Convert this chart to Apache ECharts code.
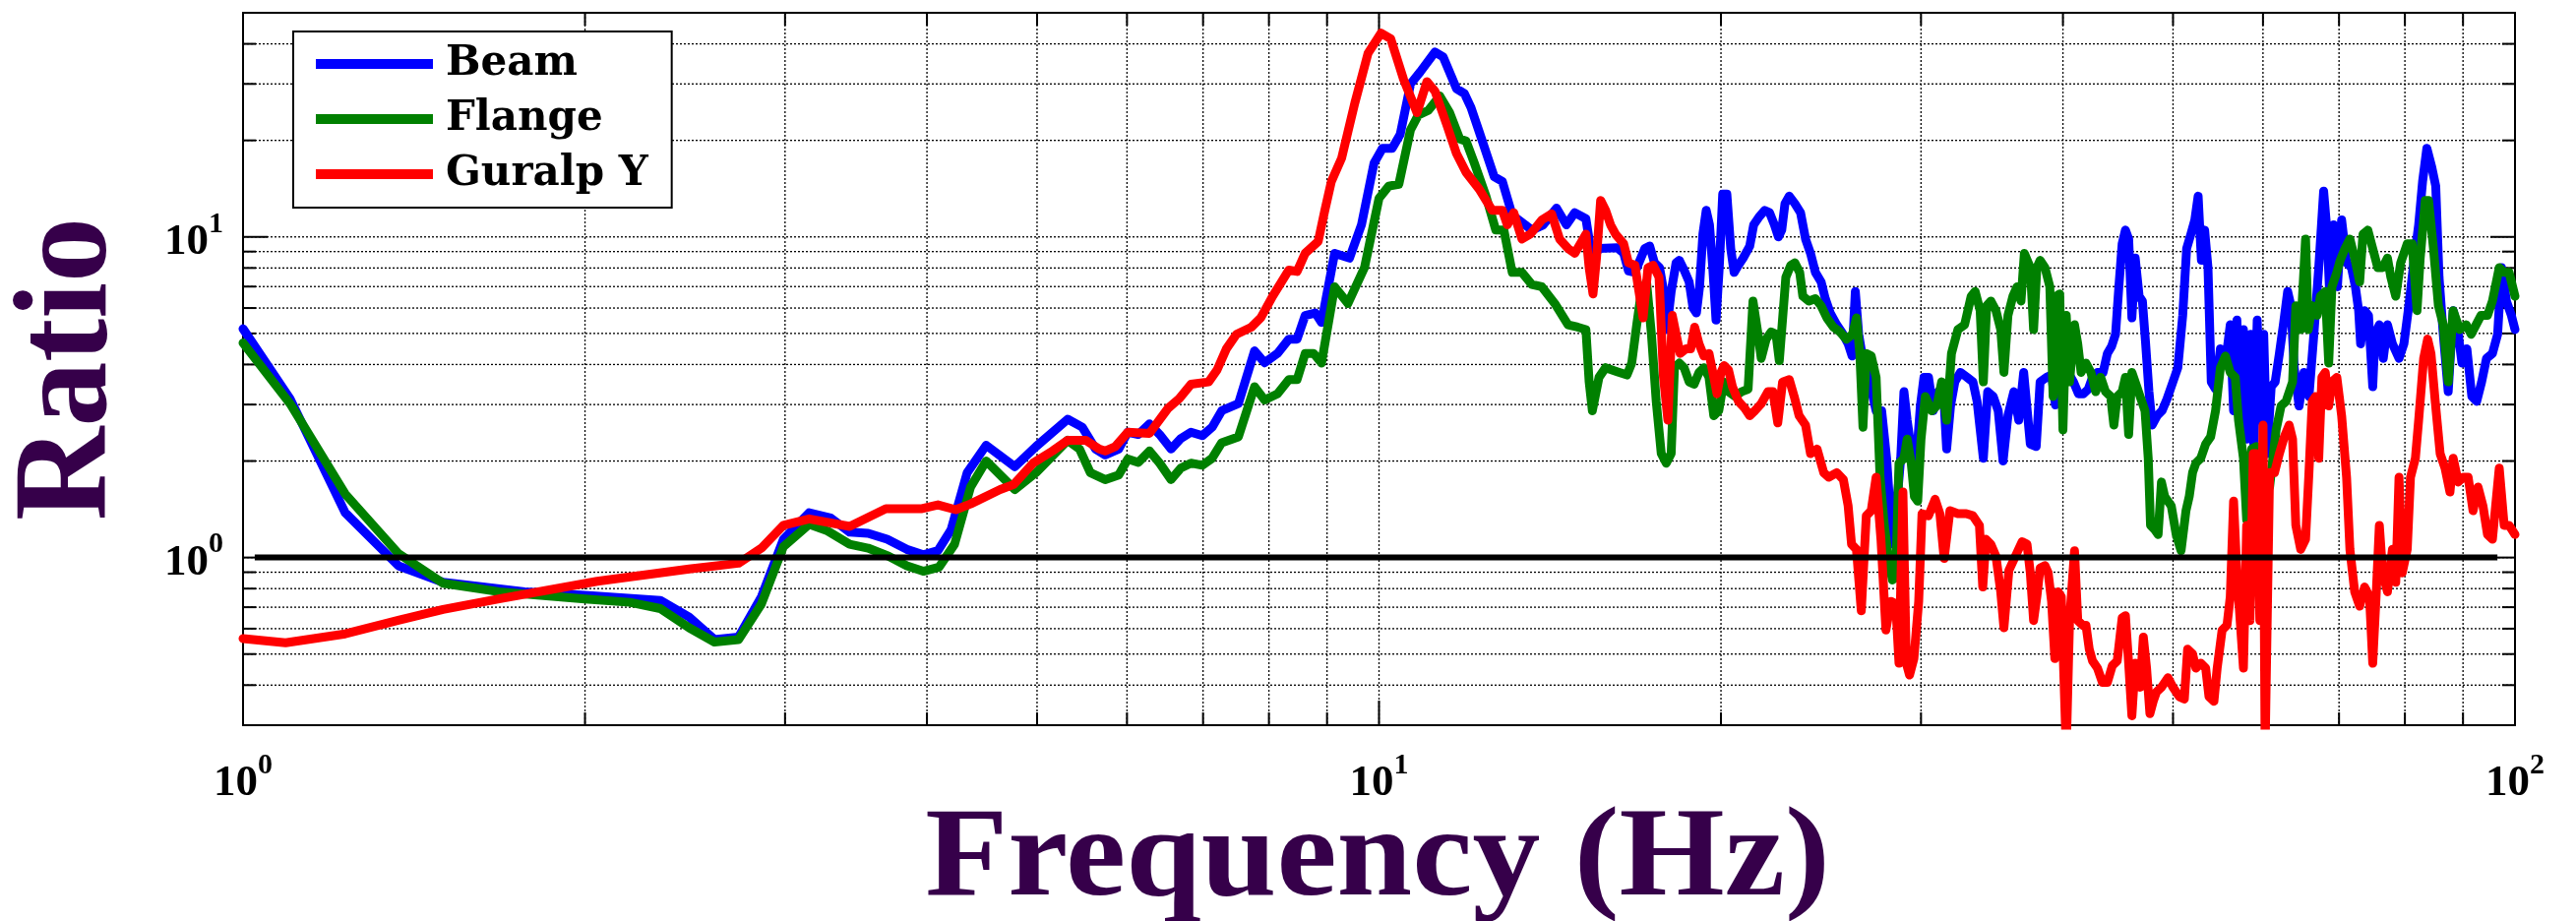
<!DOCTYPE html>
<html><head><meta charset="utf-8">
<script src="https://cdn.jsdelivr.net/npm/echarts@6/dist/echarts.min.js"></script>
<style>html,body{margin:0;padding:0;background:#fff}#c{width:2618px;height:936px}</style>
</head><body><div id="c"></div>
<script>
// ---------- data (frequency in Hz, ratio) ----------
const beamF = [1.00,1.10,1.23,1.37,1.50,1.77,2.00,2.33,2.47,
2.60,2.73,2.86,2.99,3.15,3.29,3.42,3.55,3.69,3.84,3.97,4.09,4.20,4.34,4.51,4.78,4.99,5.32,5.48,5.63,5.74,5.90,6.01,
6.14,6.28,6.41,6.56,6.69,6.83,6.99,7.13,7.27,7.52,7.77,7.93,8.14,8.33,8.47,8.61,8.79,8.90,9.14,9.42,9.65,9.90,10.07,10.27,10.44,10.66,10.87,11.20,11.39,11.70,11.89,12.05,12.25,12.63,12.84,13.10,13.45,13.63,13.95,14.33,14.62,14.87,
15.21,15.41,15.62,16.20,16.42,16.58,16.80,17.14,17.31,17.48,17.66,17.78,17.92,18.08,18.26,18.38,18.56,18.75,18.90,19.03,19.15,19.28,19.41,19.54,19.67,19.80,19.93,20.07,20.24,20.40,20.54,20.72,20.92,21.20,21.37,21.59,21.85,22.07,22.29,22.47,22.62,22.77,22.97,23.23,23.50,23.74,23.98,24.22,24.50,24.71,24.96,25.29,25.59,25.88,26.09,26.26,26.44,26.70,27.03,27.39,27.70,27.98,28.16,28.35,28.60,28.79,28.98,29.17,29.41,29.66,29.96,30.18,30.46,30.76,31.07,31.38,31.60,31.85,32.13,32.49,32.93,33.33,33.61,34.04,34.34,34.73,35.08,35.43,35.78,36.21,36.57,36.94,
37.44,37.89,38.19,38.70,39.09,39.40,39.74,40.06,40.46,40.86,41.28,41.69,42.11,42.47,42.90,43.39,43.77,44.15,44.50,44.80,45.10,45.40,45.70,46.00,46.31,46.68,46.99,47.30,47.62,47.93,48.42,48.90,49.39,49.99,50.49,50.99,51.40,51.84,52.26,52.61,52.96,53.31,53.67,54.03,54.50,55.04,55.60,56.15,56.53,56.91,57.29,57.67,58.05,58.52,58.91,59.30,59.69,60.09,60.49,61.01,61.50,62.03,62.53,63.08,63.50,63.92,64.56,65.20,65.86,66.52,67.18,67.85,68.30,68.76,69.22,69.77,70.37,71.08,71.79,72.36,72.84,73.13,73.72,74.31,74.95,75.30,75.96,76.57,77.23,78.00,79.05,79.84,80.64,81.45,82.26,82.92,83.64,84.48,85.16,85.73,86.47,87.34,88.22,88.92,89.81,90.71,91.62,92.53,93.46,94.39,95.53,96.54,97.31,98.28,99.27,100];
const beamV = [5.17,3.13,1.38,0.943,0.837,0.782,0.763,0.735,0.652,
0.555,0.565,0.755,1.14,1.38,1.33,1.20,1.19,1.14,1.06,1.02,1.05,1.22,1.84,2.24,1.92,2.22,2.70,2.55,2.18,2.09,2.18,2.46,
2.42,2.61,2.42,2.18,2.35,2.46,2.40,2.55,2.87,3.02,4.41,4.05,4.33,4.80,4.80,5.69,5.79,5.41,8.89,8.59,10.9,17.0,18.9,18.9,20.9,30.0,32.7,37.7,36.4,29.0,28.0,25.3,21.3,15.4,14.9,11.7,10.9,10.5,10.9,12.3,10.9,11.9,
11.4,8.45,9.20,9.26,8.89,7.83,7.75,9.20,9.36,8.30,8.02,6.99,5.14,6.76,8.30,8.45,7.88,7.24,6.00,5.79,6.99,10.2,12.1,10.9,8.02,5.50,8.02,13.6,13.6,9.20,7.75,8.16,8.59,9.36,10.9,11.5,12.1,11.9,10.9,10.0,10.5,12.7,13.4,12.7,11.9,9.85,8.89,7.75,7.24,6.42,5.79,5.32,5.00,4.64,4.25,6.76,4.97,4.04,3.53,2.87,2.87,2.04,1.45,1.10,1.55,2.04,3.29,2.68,2.18,1.84,2.97,3.65,3.65,2.87,3.29,3.41,2.18,2.97,3.53,3.78,3.65,3.53,3.07,2.04,3.29,3.18,2.87,2.00,2.77,3.29,2.68,3.78,
2.26,2.22,3.53,3.65,3.71,2.99,3.18,3.65,3.75,3.53,3.24,3.24,3.35,3.65,3.78,3.78,4.33,4.56,4.97,6.99,9.52,10.5,9.85,5.59,8.59,6.53,6.31,4.64,3.29,2.59,2.77,2.87,3.12,3.53,3.91,5.69,9.20,10.2,11.3,13.4,8.45,10.5,8.02,3.53,3.35,4.48,4.04,5.32,2.87,5.50,2.50,5.14,2.34,4.97,2.18,5.50,2.68,4.97,2.11,3.41,3.53,4.33,5.32,6.76,6.10,3.91,2.97,3.78,3.18,4.97,8.02,13.9,10.5,6.10,10.9,6.99,11.3,8.30,8.02,6.99,5.89,4.64,5.89,5.69,3.41,4.97,5.32,4.18,5.32,4.64,4.18,4.64,6.10,8.30,10.9,14.9,18.9,16.5,14.4,7.49,4.97,3.29,5.89,5.32,4.04,4.48,3.18,3.07,3.53,4.18,4.33,4.97,8.02,6.31,5.69,5.14];

const flangeF = [1.00,1.10,1.23,1.37,1.50,1.68,2.00,2.19,2.33,2.47,
2.60,2.73,2.86,2.99,3.15,3.27,3.42,3.55,3.70,3.84,3.97,4.10,4.23,4.37,4.51,4.78,4.99,5.32,5.45,5.57,5.74,5.90,6.01,
6.14,6.28,6.41,6.56,6.69,6.83,6.99,7.13,7.27,7.52,7.77,7.93,8.14,8.33,8.47,8.61,8.76,8.90,9.14,9.39,9.71,10.00,10.20,10.41,10.66,10.83,11.05,11.31,11.54,11.78,11.93,12.13,12.42,12.67,12.88,13.10,13.36,13.63,13.91,14.28,14.67,14.96,
15.21,15.31,15.41,15.62,15.83,16.20,16.53,16.69,16.86,17.02,17.20,17.37,17.54,17.72,17.90,18.08,18.20,18.38,18.56,18.75,18.94,19.13,19.32,19.52,19.71,19.91,20.11,20.31,20.58,20.85,21.13,21.34,21.56,21.70,21.92,22.14,22.36,22.51,22.81,23.04,23.23,23.46,23.61,23.90,24.22,24.50,24.79,25.12,25.46,25.79,26.11,26.32,26.50,26.67,26.85,27.12,27.39,27.61,27.85,28.12,28.31,28.50,28.69,28.98,29.17,29.41,29.60,29.80,30.00,30.26,30.66,30.97,31.28,31.60,31.91,32.33,32.77,33.21,33.48,33.82,34.04,34.27,34.56,34.92,35.26,35.49,35.78,36.14,36.45,36.74,36.99,
37.44,37.69,37.94,38.19,38.57,38.95,39.21,39.47,39.74,40.00,40.27,40.54,40.95,41.22,41.50,41.91,42.33,42.75,43.18,43.61,44.06,44.35,44.65,45.10,45.40,45.70,46.00,46.46,46.77,47.24,47.55,47.77,48.19,48.51,48.84,49.16,49.82,50.32,50.82,51.33,51.67,52.02,52.37,52.89,53.42,53.96,54.50,55.04,55.60,56.15,56.72,57.10,57.67,58.05,58.64,59.20,60.01,60.81,61.62,62.24,62.87,63.71,64.13,64.77,65.41,65.77,66.30,66.96,67.41,68.08,68.55,69.00,69.69,70.16,70.86,71.56,72.26,72.99,73.48,74.21,74.95,75.71,76.47,77.22,77.75,78.53,79.31,80.38,81.18,81.99,82.52,83.37,83.93,84.77,85.62,86.47,87.34,88.22,89.39,90.59,91.50,92.41,93.33,94.58,95.53,96.86,97.83,98.81,100];
const flangeV = [4.67,3.02,1.58,1.03,0.831,0.782,0.742,0.725,0.693,0.604,
0.545,0.555,0.717,1.08,1.27,1.21,1.10,1.07,1.01,0.943,0.906,0.934,1.10,1.66,2.00,1.63,1.84,2.32,2.18,1.84,1.75,1.81,2.03,
1.98,2.15,1.97,1.75,1.90,1.97,1.94,2.04,2.28,2.38,3.41,3.10,3.24,3.59,3.59,4.33,4.33,4.04,6.99,6.20,8.02,13.2,14.4,14.6,21.6,24.0,24.8,27.5,24.4,20.2,19.9,17.0,13.4,10.5,10.5,7.75,7.75,7.11,6.99,6.20,5.32,5.23,
5.14,3.53,2.87,3.65,3.91,3.80,3.71,4.04,5.32,6.76,7.24,4.97,3.07,2.11,1.97,2.11,3.91,4.04,3.91,3.53,3.47,3.78,3.91,3.65,2.77,2.87,3.53,3.29,3.18,3.29,3.35,6.31,4.97,4.18,4.80,5.05,4.97,4.11,7.49,8.16,8.30,7.75,6.53,6.31,6.42,6.10,5.59,5.23,5.05,4.80,4.97,5.59,4.33,2.55,4.33,4.25,3.65,1.78,1.26,0.960,0.851,0.866,1.97,2.04,2.34,1.97,1.55,1.50,2.34,3.18,2.87,2.97,3.53,2.68,4.33,5.14,5.32,6.53,6.76,5.89,3.53,6.10,6.31,5.89,5.14,3.78,5.69,6.53,6.99,6.31,8.89,
8.02,5.14,8.02,8.45,8.02,6.99,3.18,6.53,6.64,2.50,5.69,3.53,5.32,4.64,3.78,4.04,3.78,3.29,3.65,3.29,3.18,2.59,3.18,3.29,3.65,2.42,3.78,3.41,3.18,2.87,2.04,1.26,1.22,1.18,1.72,1.55,1.45,1.18,1.05,1.40,1.55,1.84,1.97,2.04,2.26,2.38,2.87,3.91,4.25,3.78,3.65,2.68,2.04,1.31,2.18,2.22,1.78,1.66,2.50,2.97,3.07,3.53,6.10,5.14,9.85,5.14,6.10,5.69,6.53,6.76,4.04,6.99,7.75,8.45,9.20,9.85,8.59,7.24,10.2,10.5,9.20,8.02,8.02,8.59,7.49,6.53,8.30,9.52,9.52,5.89,8.59,13.0,13.0,9.20,6.10,5.32,3.53,5.89,5.14,5.32,4.97,5.32,5.69,5.69,6.31,8.02,7.75,7.75,6.53];

const guralpF = [1.00,1.09,1.23,1.37,1.50,1.68,2.05,2.47,
2.73,2.86,2.99,3.15,3.42,3.68,3.96,4.09,4.24,4.37,4.64,4.77,4.96,5.16,5.32,5.52,5.67,5.74,5.86,6.01,
6.28,6.52,6.67,6.83,7.08,7.20,7.34,7.49,7.72,7.87,8.06,8.33,8.47,8.61,8.84,8.96,9.08,9.27,9.52,9.78,10.04,10.24,10.51,10.80,11.02,11.20,11.47,11.70,11.93,12.25,12.58,12.84,12.97,13.14,13.36,13.59,13.91,14.19,14.42,14.67,14.87,
15.21,15.31,15.43,15.54,15.67,15.83,15.99,16.15,16.42,16.58,16.80,16.91,17.08,17.25,17.43,17.64,17.80,17.96,18.12,18.26,18.41,18.63,18.81,18.96,19.13,19.32,19.52,19.71,19.84,20.00,20.13,20.31,20.47,20.72,20.99,21.20,21.42,21.70,22.00,22.22,22.44,22.66,22.97,23.20,23.43,23.74,23.98,24.30,24.63,24.88,25.29,25.63,25.88,26.06,26.32,26.58,26.85,27.12,27.39,27.66,27.94,28.22,28.50,28.69,28.92,29.12,29.31,29.57,29.86,30.06,30.46,30.87,31.17,31.44,31.81,32.33,32.88,33.33,33.77,34.00,34.22,34.56,34.92,35.26,35.49,35.85,36.33,36.82,37.19,
37.44,37.69,37.94,38.19,38.57,38.82,39.09,39.35,39.61,39.87,40.27,40.54,40.95,41.22,41.64,41.91,42.19,42.47,42.90,43.33,43.77,44.21,44.65,45.10,45.40,45.70,46.00,46.31,46.77,47.08,47.39,47.71,48.03,48.35,48.84,49.49,49.99,50.66,51.16,51.50,52.02,52.37,52.89,53.42,53.78,54.32,54.68,55.23,55.78,56.15,56.53,56.91,57.29,57.67,58.05,58.44,58.83,59.20,59.62,60.01,60.26,60.49,60.81,61.42,62.03,62.65,63.27,63.71,64.13,64.77,65.41,65.86,66.30,66.74,67.18,67.61,68.08,68.55,69.00,69.69,70.37,71.08,71.56,72.26,72.99,73.72,74.46,74.95,75.46,75.96,76.47,77.22,78.00,78.53,79.05,79.57,80.38,80.91,81.72,82.26,83.10,83.77,84.34,85.07,85.92,86.78,87.65,88.22,89.14,90.04,90.94,91.85,92.78,93.71,94.58,95.53,96.86,97.83,98.81,100];
const guralpV = [0.559,0.542,0.578,0.637,0.689,0.743,0.843,0.921,
0.960,1.07,1.26,1.32,1.25,1.42,1.42,1.46,1.41,1.47,1.63,1.69,1.97,2.15,2.32,2.32,2.18,2.15,2.22,2.46,
2.44,2.92,3.13,3.47,3.53,3.84,4.48,4.97,5.23,5.60,6.53,7.88,7.80,8.89,9.68,12.1,14.9,17.6,26.1,37.4,43.2,41.5,31.0,24.4,30.5,28.5,22.4,18.2,15.9,14.1,12.1,12.1,10.9,11.9,9.85,10.2,11.3,11.8,9.85,9.20,8.89,
10.2,8.02,6.64,8.59,13.0,12.1,10.9,10.2,9.52,8.30,8.16,6.99,5.59,8.02,8.16,7.49,3.65,2.68,5.69,4.97,4.33,4.48,4.48,5.23,4.64,4.25,4.33,3.65,3.24,3.78,3.97,3.84,3.41,3.07,2.92,2.77,2.87,3.02,3.29,3.29,2.63,3.53,3.59,3.18,2.77,2.59,2.11,2.18,1.84,1.78,1.84,1.75,1.45,1.10,1.06,0.682,1.35,1.40,1.78,1.14,0.594,0.730,0.718,0.468,1.60,0.468,0.430,0.484,0.730,1.37,1.35,1.52,1.37,0.993,1.40,1.37,1.37,1.35,1.26,0.809,1.14,1.10,1.01,0.782,0.604,0.912,1.01,1.12,1.10,
0.896,0.636,0.755,0.928,0.944,0.896,0.730,0.484,0.782,0.755,0.25,0.636,1.05,0.636,0.615,0.615,0.518,0.476,0.452,0.408,0.408,0.460,0.476,0.648,0.659,0.468,0.321,0.468,0.394,0.565,0.452,0.326,0.356,0.381,0.394,0.422,0.394,0.368,0.362,0.518,0.501,0.452,0.468,0.452,0.368,0.356,0.452,0.594,0.615,0.755,1.50,0.896,0.636,0.452,1.26,0.636,2.11,2.11,0.636,2.59,0.25,0.25,1.84,1.84,2.11,2.38,2.59,2.34,1.26,1.06,1.14,1.84,3.07,3.18,2.04,3.65,3.78,2.97,3.53,3.65,2.77,1.78,1.06,0.782,0.705,0.809,0.755,0.468,0.755,1.26,0.896,0.782,1.06,0.837,1.78,0.896,1.06,1.78,2.04,2.68,4.18,4.80,4.33,3.07,2.11,1.90,1.60,2.04,1.72,1.78,1.78,1.40,1.66,1.45,1.18,1.14,1.90,1.26,1.26,1.18];

const seriesNames = ['Beam', 'Flange', 'Guralp Y'];
const unityLevel = 1;
const unitySpan = [1.024, 96.5];

// axis ranges and grid/tick values
const xRange = [1, 100];
const yRange = [0.3, 50];
const xMinorGrid = [2,3,4,5,6,7,8,9,20,30,40,50,60,70,80,90];
const xMajorGrid = [10];
const yMinorGrid = [0.4,0.5,0.6,0.7,0.8,0.9,2,3,4,5,6,7,8,9,20,30,40];
const yMajorGrid = [1,10];

// ---------- build ----------
function zip(f, v) { return f.map((x, i) => [x, v[i]]); }
const gridData = [];
xMinorGrid.forEach(v => gridData.push([v, 1, 0]));
xMajorGrid.forEach(v => gridData.push([v, 1, 1]));
yMinorGrid.forEach(v => gridData.push([1, v, 2]));
yMajorGrid.forEach(v => gridData.push([1, v, 3]));

function powLabel(v) {
  const e = Math.log10(v), r = Math.round(e);
  if (Math.abs(e - r) > 1e-6) return '';
  return '{b|10}{s|' + r + '}';
}
const labelRich = {
  b: { fontFamily: 'Liberation Serif', fontWeight: 'bold', fontSize: 45, lineHeight: 56, verticalAlign: 'bottom', color: '#000' },
  s: { fontFamily: 'Liberation Serif', fontWeight: 'bold', fontSize: 30, lineHeight: 8, verticalAlign: 'top', color: '#000' }
};

const lineCommon = { type: 'line', symbol: 'none', showSymbol: false, clip: true, animation: false };
const chart = echarts.init(document.getElementById('c'), null, { renderer: 'canvas' });
chart.setOption({
  animation: false,
  backgroundColor: '#fff',
  grid: { left: 247, right: 62, top: 13, bottom: 199, show: true, borderColor: '#000', borderWidth: 2, backgroundColor: 'transparent' },
  xAxis: {
    type: 'log', logBase: 10, min: xRange[0], max: xRange[1],
    axisLine: { show: false }, axisTick: { show: false }, splitLine: { show: false },
    axisLabel: { formatter: powLabel, margin: 26, rich: labelRich }
  },
  yAxis: {
    type: 'log', logBase: 10, min: yRange[0], max: yRange[1],
    axisLine: { show: false }, axisTick: { show: false }, splitLine: { show: false },
    axisLabel: { formatter: powLabel, margin: 20, rich: labelRich }
  },
  legend: {
    left: 298, top: 32, orient: 'vertical',
    data: seriesNames,
    icon: 'rect', itemWidth: 119, itemHeight: 10, itemGap: 10,
    padding: [10, 24, 11, 23],
    backgroundColor: '#fff', borderColor: '#000', borderWidth: 2, borderRadius: 0,
    selectedMode: false,
    itemStyle: { borderWidth: 0 },
    textStyle: { fontFamily: 'DejaVu Serif', fontWeight: 'bold', fontSize: 42, color: '#000', lineHeight: 46, padding: [0, 0, 0, 8] }
  },
  graphic: [
    { type: 'text', x: 72, y: 375, rotation: Math.PI / 2, scaleX: 0.97,
      style: { text: 'Ratio', fill: '#36004A', fontFamily: 'Liberation Serif', fontWeight: 'bold', fontSize: 136, align: 'center', verticalAlign: 'middle' } },
    { type: 'text', x: 1400, y: 875, scaleX: 1.06,
      style: { text: 'Frequency (Hz)', fill: '#36004A', fontFamily: 'Liberation Serif', fontWeight: 'bold', fontSize: 130, align: 'center', verticalAlign: 'middle' } }
  ],
  series: [
    {
      type: 'custom', name: 'gridlines', silent: true, z: 1, clip: false,
      data: gridData, encode: { x: 0, y: 1 },
      renderItem: function (params, api) {
        const cs = params.coordSys;
        const kind = api.value(2);
        const left = cs.x, right = cs.x + cs.width, top = cs.y, bottom = cs.y + cs.height;
        const dot = { stroke: '#000', lineWidth: 1.3, lineDash: [2, 2] };
        const solid = { stroke: '#000', lineWidth: 2 };
        const L = (kind === 1 || kind === 3) ? 25 : 13;
        let ch;
        if (kind < 2) {
          const p = api.coord([api.value(0), api.value(1)])[0];
          ch = [
            { type: 'line', shape: { x1: p, y1: top, x2: p, y2: bottom }, style: dot },
            { type: 'line', shape: { x1: p, y1: bottom, x2: p, y2: bottom - L }, style: solid },
            { type: 'line', shape: { x1: p, y1: top, x2: p, y2: top + L }, style: solid }
          ];
        } else {
          const p = api.coord([api.value(0), api.value(1)])[1];
          ch = [
            { type: 'line', shape: { x1: left, y1: p, x2: right, y2: p }, style: dot },
            { type: 'line', shape: { x1: left, y1: p, x2: left + L, y2: p }, style: solid },
            { type: 'line', shape: { x1: right, y1: p, x2: right - L, y2: p }, style: solid }
          ];
        }
        return { type: 'group', children: ch };
      }
    },
    Object.assign({}, lineCommon, { name: seriesNames[0], z: 3, data: zip(beamF, beamV),
      itemStyle: { color: '#0000FF' }, lineStyle: { color: '#0000FF', width: 9, join: 'round', cap: 'round' } }),
    Object.assign({}, lineCommon, { name: seriesNames[1], z: 4, data: zip(flangeF, flangeV),
      itemStyle: { color: '#008000' }, lineStyle: { color: '#008000', width: 9, join: 'round', cap: 'round' } }),
    Object.assign({}, lineCommon, { name: seriesNames[2], z: 5, data: zip(guralpF, guralpV),
      itemStyle: { color: '#FF0000' }, lineStyle: { color: '#FF0000', width: 9, join: 'round', cap: 'round' } }),
    Object.assign({}, lineCommon, { name: 'unity', z: 6, data: [[unitySpan[0], unityLevel], [unitySpan[1], unityLevel]],
      itemStyle: { color: '#000' }, lineStyle: { color: '#000', width: 6 } })
  ]
});
</script>
</body></html>
